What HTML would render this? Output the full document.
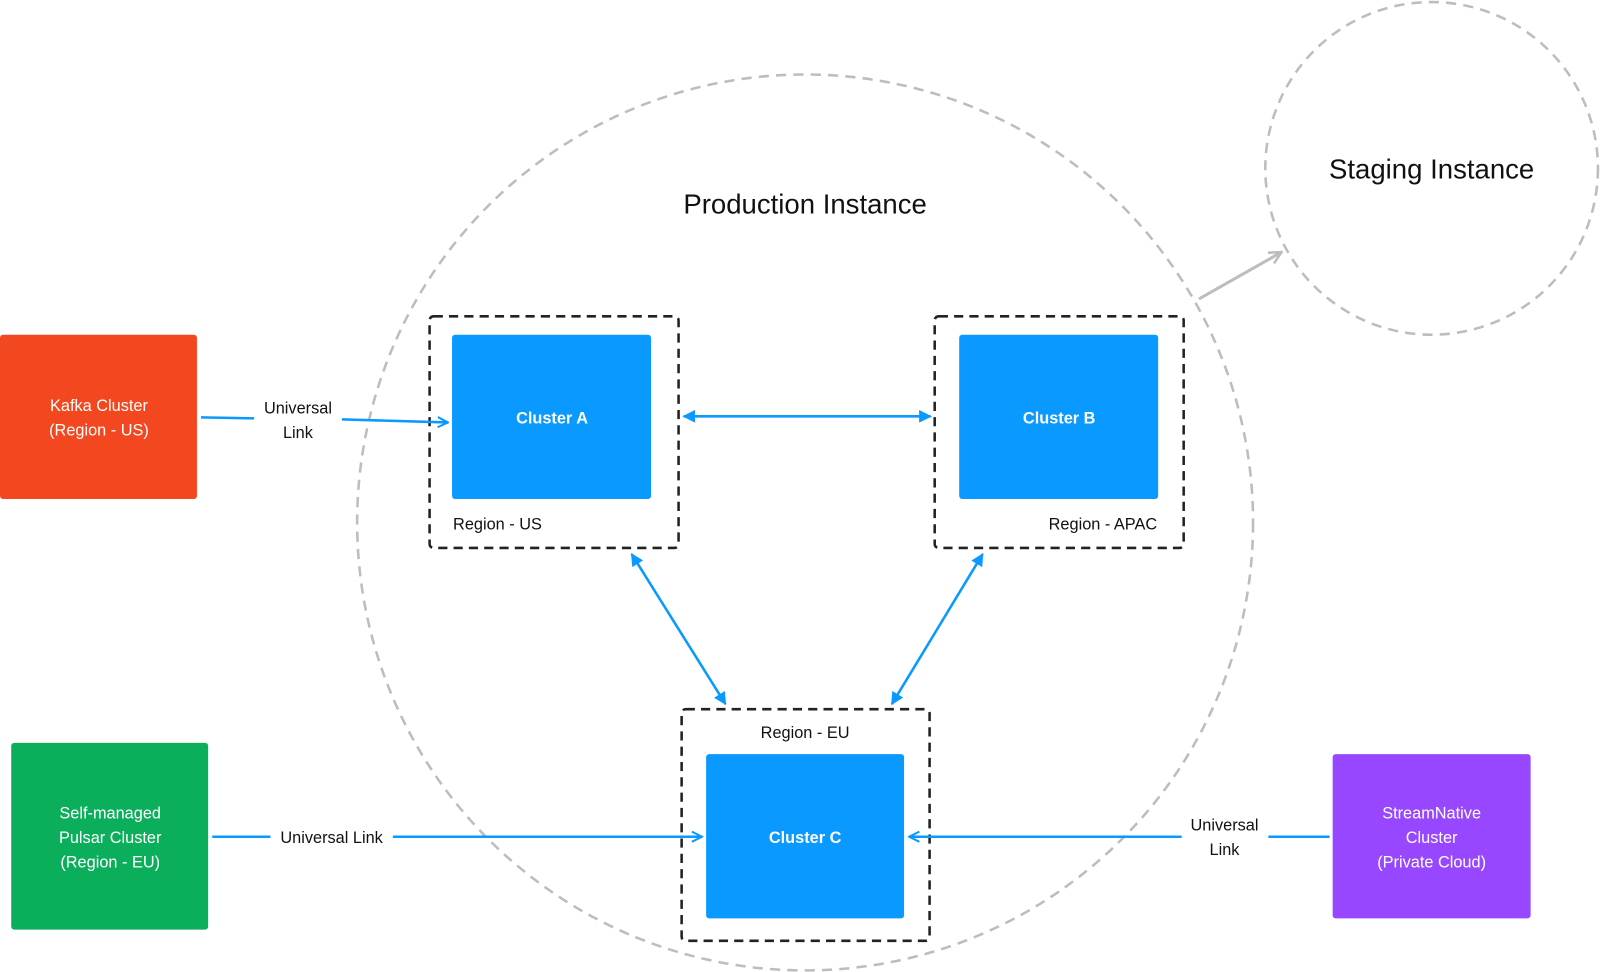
<!DOCTYPE html>
<html><head><meta charset="utf-8"><style>
html,body{margin:0;padding:0;background:#fff;}
svg{display:block;font-family:"Liberation Sans",sans-serif;}
</style></head><body>
<svg width="1600" height="972" viewBox="0 0 1568 952.56" preserveAspectRatio="none" xmlns="http://www.w3.org/2000/svg">
<defs>
<marker id="tri" viewBox="0 0 10 10" refX="9" refY="5" markerWidth="5" markerHeight="5" orient="auto-start-reverse" markerUnits="strokeWidth">
<path d="M0,0 L10,5 L0,10 z" fill="#0A99FF"/></marker>
<marker id="chev" viewBox="0 0 10 10" refX="9" refY="5" markerWidth="5" markerHeight="5" orient="auto" markerUnits="strokeWidth">
<path d="M1,1 L9,5 L1,9" fill="none" stroke="#0A99FF" stroke-width="1.6"/></marker>
<marker id="chevg" viewBox="0 0 10 10" refX="9" refY="5" markerWidth="5" markerHeight="5" orient="auto" markerUnits="strokeWidth">
<path d="M1,1 L9,5 L1,9" fill="none" stroke="#bdbdbd" stroke-width="1.6"/></marker>
</defs>
<circle cx="789" cy="512" r="439" fill="none" stroke="#bdbdbd" stroke-width="2.5" stroke-dasharray="10 7"/>
<circle cx="1403" cy="165" r="163" fill="none" stroke="#bdbdbd" stroke-width="2.5" stroke-dasharray="10 7"/>
<line x1="1175" y1="293" x2="1256" y2="247" stroke="#bdbdbd" stroke-width="3" marker-end="url(#chevg)"/>
<text x="789" y="209" font-size="27" text-anchor="middle" fill="#111">Production Instance</text>
<text x="1403" y="175" font-size="27" text-anchor="middle" fill="#111">Staging Instance</text>

<g fill="none" stroke="#222" stroke-width="2.5" stroke-dasharray="9 6">
<rect x="421" y="310" width="244" height="227" rx="4"/>
<rect x="916" y="310" width="244" height="227" rx="4"/>
<rect x="668" y="695" width="243" height="227" rx="4"/>
</g>
<rect x="443" y="328" width="195" height="161" rx="3" fill="#0A99FF"/>
<rect x="940" y="328" width="195" height="161" rx="3" fill="#0A99FF"/>
<rect x="692" y="739" width="194" height="161" rx="3" fill="#0A99FF"/>
<g fill="#fff" font-size="16" font-weight="bold" text-anchor="middle">
<text x="541" y="415">Cluster A</text>
<text x="1038" y="415">Cluster B</text>
<text x="789" y="826">Cluster C</text>
</g>
<g fill="#111" font-size="16">
<text x="444" y="519">Region - US</text>
<text x="1134" y="519" text-anchor="end">Region - APAC</text>
<text x="789" y="723" text-anchor="middle">Region - EU</text>
</g>

<rect x="0" y="328" width="193" height="161" rx="3" fill="#F2471F"/>
<rect x="11" y="728" width="193" height="183" rx="3" fill="#0BAE5B"/>
<rect x="1306" y="739" width="194" height="161" rx="3" fill="#9747FF"/>
<g fill="#fff" font-size="16" text-anchor="middle">
<text x="97" y="403">Kafka Cluster</text>
<text x="97" y="427">(Region - US)</text>
<text x="108" y="802">Self-managed</text>
<text x="108" y="826">Pulsar Cluster</text>
<text x="108" y="850">(Region - EU)</text>
<text x="1403" y="802">StreamNative</text>
<text x="1403" y="826">Cluster</text>
<text x="1403" y="850">(Private Cloud)</text>
</g>

<g stroke="#0A99FF" stroke-width="2.5" fill="none">
<line x1="197" y1="409" x2="249" y2="410"/>
<line x1="335" y1="411" x2="439" y2="414" marker-end="url(#chev)"/>
<line x1="208" y1="820" x2="265" y2="820"/>
<line x1="385" y1="820" x2="688" y2="820" marker-end="url(#chev)"/>
<line x1="1303" y1="820" x2="1243" y2="820"/>
<line x1="1158" y1="820" x2="891" y2="820" marker-end="url(#chev)"/>
<line x1="670" y1="408" x2="912" y2="408" marker-start="url(#tri)" marker-end="url(#tri)"/>
<line x1="619" y1="543" x2="711" y2="690" marker-start="url(#tri)" marker-end="url(#tri)"/>
<line x1="963" y1="543" x2="874" y2="690" marker-start="url(#tri)" marker-end="url(#tri)"/>
</g>
<g fill="#111" font-size="16" text-anchor="middle">
<text x="292" y="405">Universal</text>
<text x="292" y="429">Link</text>
<text x="325" y="826">Universal Link</text>
<text x="1200" y="814">Universal</text>
<text x="1200" y="838">Link</text>
</g>
</svg>
</body></html>
